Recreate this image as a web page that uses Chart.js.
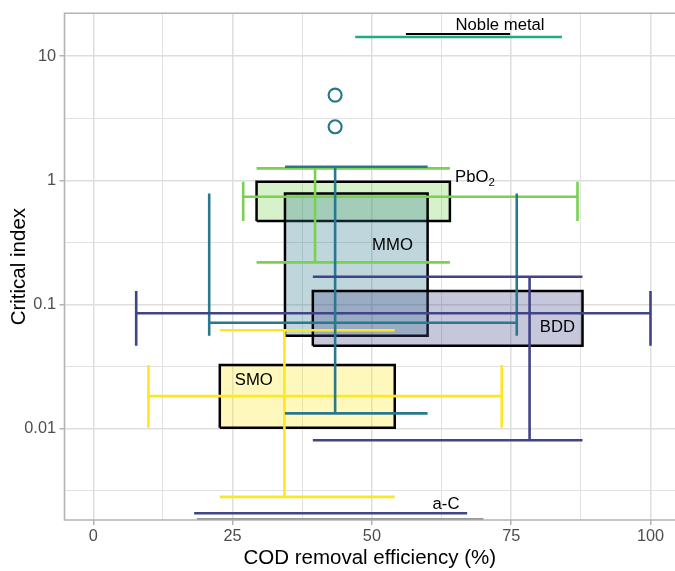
<!DOCTYPE html>
<html>
<head>
<meta charset="utf-8">
<script src="https://cdn.jsdelivr.net/npm/chart.js@4.4.1/dist/chart.umd.min.js"></script>
<style>
  html, body { margin: 0; padding: 0; background: #ffffff; overflow: hidden; }
  #wrap { width: 675px; height: 571px; position: relative; }
</style>
</head>
<body>
<div id="wrap"><canvas id="c" width="675" height="571"></canvas></div>
<script>
// ---------------- data ----------------
const materials = ['a-C', 'BDD', 'MMO', 'Noble metal', 'PbO2', 'SMO'];
// box (rectangle) extents
const boxXmin = [18.6, 39.4, 34.4, 56.1, 29.3, 22.7];
const boxXmax = [70.0, 87.8, 60.0, 74.8, 64.0, 54.1];
const boxYmin = [0.00185, 0.0464, 0.0558, 15.1, 0.469, 0.0101];
const boxYmax = [0.00185, 0.128, 0.784, 15.1, 0.973, 0.0324];
// horizontal error bars (COD removal range)
const hbarY    = [0.00207, 0.0846, 0.0711, 14.3, 0.736, 0.0182];
const hbarXmin = [18.1, 7.7, 20.8, 47.0, 26.9, 9.9];
const hbarXmax = [67.1, 100.0, 76.0, 84.1, 86.9, 73.3];
// vertical error bars (critical index range)
const vbarX    = [null, 78.3, 43.4, null, 39.8, 34.3];
const vbarYmin = [null, 0.00802, 0.0132, null, 0.218, 0.0028];
const vbarYmax = [null, 0.167, 1.285, null, 1.247, 0.0617];
// outliers (MMO)
const outlierX = [43.4, 43.4];
const outlierY = [4.86, 2.70];
// label anchors
const labelX = [63.3, 83.3, 53.7, 73.0, 68.5, 28.8];
const labelY = [0.00245, 0.0648, 0.297, 17.6, 1.06, 0.0242];
// axis ticks
const xTicks = [0, 25, 50, 75, 100];
const yTicks = [0.01, 0.1, 1, 10];

// ---------------- styles ----------------
const seriesColors = ['#3F4788', '#414487', '#2A788E', '#22A884', '#7AD151', '#FDE725'];
const boxEdge = ['#7A7A7A', '#000000', '#000000', '#000000', '#000000', '#000000'];
const X_MIN = -5.17, X_MAX = 104.4, Y_MIN = 0.001824, Y_MAX = 22.2;
const FONT = '"Liberation Sans", Arial, Helvetica, sans-serif';

function rgba(hex, a) {
  const n = parseInt(hex.slice(1), 16);
  return 'rgba(' + (n >> 16 & 255) + ',' + (n >> 8 & 255) + ',' + (n & 255) + ',' + a + ')';
}

const datasets = [];
const LW = 2.6;
function seg(points, color, order) {
  datasets.push({
    data: points, showLine: true, borderColor: color, borderWidth: LW,
    pointRadius: 0, pointHoverRadius: 0, borderCapStyle: 'butt', tension: 0,
    fill: false, order: order
  });
}

// boxes
materials.forEach((m, i) => {
  const flat = boxYmin[i] === boxYmax[i];
  datasets.push({
    data: [
      {x: boxXmin[i], y: boxYmin[i]}, {x: boxXmin[i], y: boxYmax[i]},
      {x: boxXmax[i], y: boxYmax[i]}, {x: boxXmax[i], y: boxYmin[i]},
      {x: boxXmin[i], y: boxYmin[i]}
    ],
    showLine: true, borderColor: boxEdge[i], borderWidth: flat ? 2 : 2.5,
    borderJoinStyle: 'miter', pointRadius: 0, pointHoverRadius: 0, tension: 0,
    fill: flat ? false : 'shape', backgroundColor: rgba(seriesColors[i], 0.3),
    order: 3
  });
});
// horizontal error bars + caps
materials.forEach((m, i) => {
  const c = seriesColors[i];
  seg([{x: hbarXmin[i], y: hbarY[i]}, {x: hbarXmax[i], y: hbarY[i]}], c, 2);
  if (boxYmin[i] !== boxYmax[i]) {
    seg([{x: hbarXmin[i], y: boxYmin[i]}, {x: hbarXmin[i], y: boxYmax[i]}], c, 2);
    seg([{x: hbarXmax[i], y: boxYmin[i]}, {x: hbarXmax[i], y: boxYmax[i]}], c, 2);
  }
});
// vertical error bars + caps
materials.forEach((m, i) => {
  if (vbarX[i] === null) return;
  const c = seriesColors[i];
  seg([{x: vbarX[i], y: vbarYmin[i]}, {x: vbarX[i], y: vbarYmax[i]}], c, 1);
  seg([{x: boxXmin[i], y: vbarYmax[i]}, {x: boxXmax[i], y: vbarYmax[i]}], c, 1);
  seg([{x: boxXmin[i], y: vbarYmin[i]}, {x: boxXmax[i], y: vbarYmin[i]}], c, 1);
});
// outliers
datasets.push({
  data: outlierX.map((x, k) => ({x: x, y: outlierY[k]})),
  showLine: false, pointRadius: 6.5, pointHoverRadius: 6.5, pointBorderWidth: 2.2,
  borderWidth: 2.2, pointBackgroundColor: 'rgba(0,0,0,0)', pointBorderColor: '#2A788E',
  backgroundColor: 'rgba(0,0,0,0)', borderColor: '#2A788E', order: 0
});

// minor break positions
const xStep = xTicks[1] - xTicks[0];
const xMinor = xTicks.slice(0, -1).map(v => v + xStep / 2);
const yMinor = yTicks.map(v => v / Math.sqrt(10)).concat([yTicks[yTicks.length - 1] * Math.sqrt(10)])
  .filter(v => v > Y_MIN && v < Y_MAX);

const panelBorder = {
  id: 'panelBorder',
  afterDatasetsDraw(chart) {
    const {ctx, chartArea: {left, top, right, bottom}} = chart;
    ctx.save();
    ctx.strokeStyle = '#B3B3B3';
    ctx.lineWidth = 1.6;
    ctx.beginPath();
    ctx.moveTo(right + 5, top);
    ctx.lineTo(left, top);
    ctx.lineTo(left, bottom);
    ctx.lineTo(right + 5, bottom);
    ctx.stroke();
    ctx.restore();
  }
};

const textLabels = {
  id: 'textLabels',
  afterDatasetsDraw(chart) {
    const {ctx, scales: {x, y}} = chart;
    ctx.save();
    ctx.fillStyle = '#000000';
    ctx.textBaseline = 'middle';
    materials.forEach((m, i) => {
      const px = x.getPixelForValue(labelX[i]);
      const py = y.getPixelForValue(labelY[i]);
      const mm = m.match(/^(.*\D)(\d+)$/);
      const main = mm ? mm[1] : m;
      const sub = mm ? mm[2] : '';
      ctx.font = '16.7px ' + FONT;
      const w1 = ctx.measureText(main).width;
      ctx.font = '11.5px ' + FONT;
      const w2 = sub ? ctx.measureText(sub).width : 0;
      const x0 = px - (w1 + w2) / 2;
      ctx.textAlign = 'left';
      ctx.font = '16.7px ' + FONT;
      ctx.fillText(main, x0, py);
      if (sub) {
        ctx.font = '11.5px ' + FONT;
        ctx.fillText(sub, x0 + w1, py + 6);
      }
    });
    ctx.restore();
  }
};

new Chart(document.getElementById('c'), {
  type: 'scatter',
  data: { datasets: datasets },
  options: {
    responsive: false,
    animation: false,
    devicePixelRatio: 1,
    events: [],
    layout: { autoPadding: false, padding: { top: 13, left: 0, right: 0, bottom: 0 } },
    plugins: { legend: { display: false }, tooltip: { enabled: false } },
    scales: {
      x: {
        type: 'linear', position: 'bottom', min: X_MIN, max: X_MAX,
        afterFit: s => { s.height = 51; },
        afterBuildTicks: s => { s.ticks = xTicks.concat(xMinor).sort((a, b) => a - b).map(v => ({value: v})); },
        ticks: {
          autoSkip: false, maxRotation: 0, padding: 2, color: '#4D4D4D',
          font: { family: FONT, size: 16.3 },
          callback: v => xTicks.includes(v) ? String(v) : ''
        },
        grid: {
          drawTicks: true, tickLength: 5,
          color: '#DEDEDE',
          lineWidth: c => (c.tick && xTicks.includes(c.tick.value)) ? 1.5 : 0.9,
          tickColor: c => (c.tick && xTicks.includes(c.tick.value)) ? '#B3B3B3' : 'rgba(0,0,0,0)',
          tickWidth: 1.5
        },
        border: { display: false },
        title: {
          display: true, text: 'COD removal efficiency (%)', color: '#000000',
          font: { family: FONT, size: 20.5 }, padding: { top: 0, bottom: 0 }
        }
      },
      y: {
        type: 'logarithmic', position: 'left', min: Y_MIN, max: Y_MAX,
        afterFit: s => { s.width = 64.5; },
        afterBuildTicks: s => { s.ticks = yTicks.concat(yMinor).sort((a, b) => a - b).map(v => ({value: v})); },
        ticks: {
          autoSkip: false, padding: 3.5, color: '#4D4D4D',
          font: { family: FONT, size: 16.3 },
          callback: v => yTicks.includes(v) ? String(v) : ''
        },
        grid: {
          drawTicks: true, tickLength: 5,
          color: '#DEDEDE',
          lineWidth: c => (c.tick && yTicks.includes(c.tick.value)) ? 1.5 : 0.9,
          tickColor: c => (c.tick && yTicks.includes(c.tick.value)) ? '#B3B3B3' : 'rgba(0,0,0,0)',
          tickWidth: 1.5
        },
        border: { display: false },
        title: {
          display: true, text: 'Critical index', color: '#000000',
          font: { family: FONT, size: 20.5 }, padding: { top: 7, bottom: 0 }
        }
      }
    }
  },
  plugins: [panelBorder, textLabels]
});
</script>
</body>
</html>
